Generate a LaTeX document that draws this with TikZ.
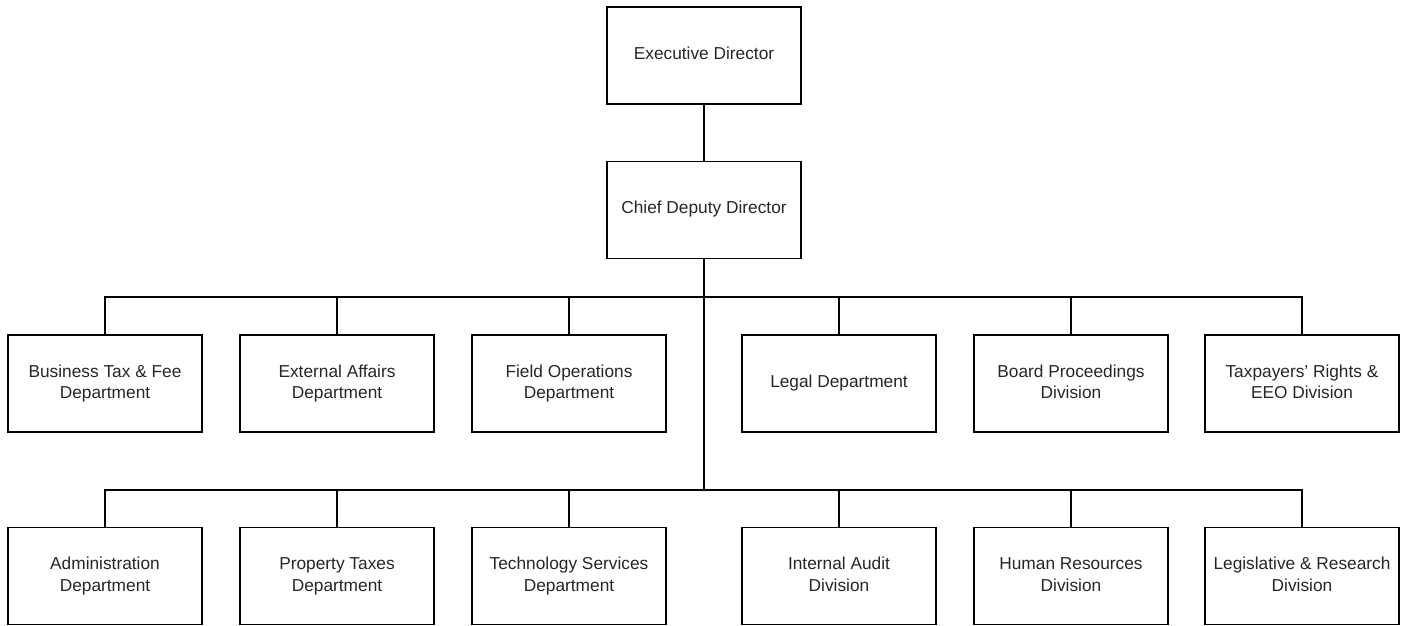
\documentclass[tikz,border=0pt]{standalone}
\usepackage{fontspec}
\setmainfont{Liberation Sans}
\newcommand{\twolines}[2]{\raisebox{-3.5pt}{\begin{tabular}{@{}c@{}}#1\\#2\end{tabular}}}
\begin{document}
\begin{tikzpicture}[x=1pt,y=-1pt,
  box/.style={draw=black,line width=1.4pt,minimum width=194pt,minimum height=97pt,inner sep=0pt,
    align=center,font=\fontsize{17.3}{21.5}\selectfont,text=black!85},
  link/.style={line width=1.4pt,black}]
\useasboundingbox (0,0) rectangle (1405,625);
\node[box] (ed) at (704,55.5) {\raisebox{5pt}{Executive Director}};
\node[box] (cd) at (704,210) {\raisebox{5pt}{Chief Deputy Director}};
\coordinate (bus1) at (704,297);
\coordinate (bus2) at (704,490);
% row 1
\node[box] (r1a) at (105,383.5) {\twolines{Business Tax \& Fee}{Department}};
\node[box] (r1b) at (337,383.5) {\twolines{External Affairs}{Department}};
\node[box] (r1c) at (569,383.5) {\twolines{Field Operations}{Department}};
\node[box] (r1d) at (839,383.5) {\raisebox{5pt}{Legal Department}};
\node[box] (r1e) at (1071,383.5) {\twolines{Board Proceedings}{Division}};
\node[box] (r1f) at (1302,383.5) {\twolines{Taxpayers' Rights \&}{EEO Division}};
% row 2
\node[box] (r2a) at (105,576) {\twolines{Administration}{Department}};
\node[box] (r2b) at (337,576) {\twolines{Property Taxes}{Department}};
\node[box] (r2c) at (569,576) {\twolines{Technology Services}{Department}};
\node[box] (r2d) at (839,576) {\twolines{Internal Audit}{Division}};
\node[box] (r2e) at (1071,576) {\twolines{Human Resources}{Division}};
\node[box] (r2f) at (1302,576) {\twolines{Legislative \& Research}{Division}};
\draw[link] (ed) -- (cd);
\draw[link] (cd) -- (bus2);
\foreach \n in {r1a,r1b,r1c,r1d,r1e,r1f}{\draw[link] (\n.north) |- (bus1);}
\foreach \n in {r2a,r2b,r2c,r2d,r2e,r2f}{\draw[link] (\n.north) |- (bus2);}
\end{tikzpicture}
\end{document}
